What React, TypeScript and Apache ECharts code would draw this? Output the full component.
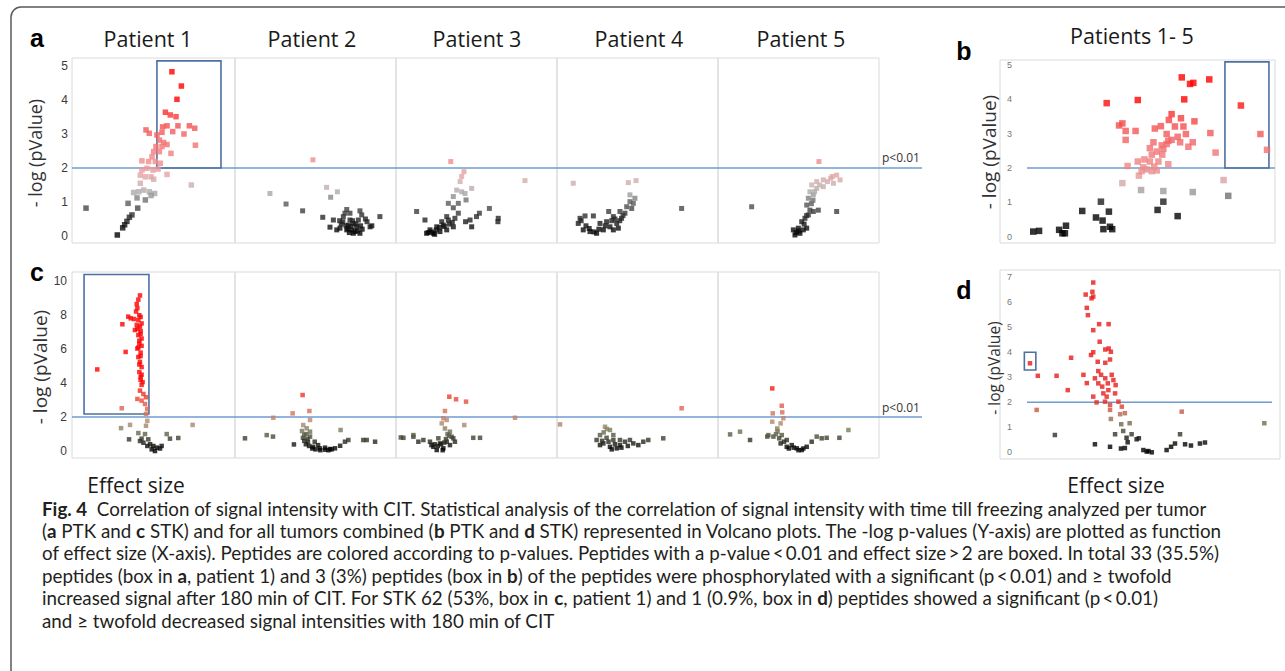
import React, { useEffect, useRef } from 'react';
import * as echarts from 'echarts';

// ---------- data (x = effect size, arbitrary 0-10 panel units; y = -log(pValue)) ----------
const patientLabels = ['Patient 1', 'Patient 2', 'Patient 3', 'Patient 4', 'Patient 5'];
const combinedLabel = 'Patients 1- 5';
const yTicksA = [0, 1, 2, 3, 4, 5];
const yTicksB = [0, 1, 2, 3, 4, 5];
const yTicksC = [0, 2, 4, 6, 8, 10];
const yTicksD = [0, 1, 2, 3, 4, 5, 6, 7];
const threshold = 2;
const thresholdLabel = 'p<0.01';

const a1Points = [[6.13,4.83],[6.71,4.41],[6.44,4.02],[5.73,3.64],[6.03,3.56],[6.38,3.51],[5.56,3.21],[5.83,3.24],[6.5,3.24],[7.2,3.24],[7.53,3.17],[6.87,3.0],[6.18,3.07],[4.54,3.12],[4.74,3.02],[5.21,2.97],[5.52,3.05],[5.36,2.82],[5.62,2.75],[5.15,2.63],[5.52,2.63],[5.83,2.69],[6.07,2.43],[7.57,2.67],[5.01,2.48],[5.36,2.48],[4.91,2.33],[4.29,2.21],[4.7,2.19],[5.11,2.19],[5.42,2.14],[4.29,1.94],[4.6,1.99],[4.97,1.94],[5.28,1.97],[5.83,1.81],[4.19,1.79],[4.5,1.74],[4.85,1.74],[5.01,1.67],[7.32,1.5],[4.19,1.55],[3.78,1.28],[4.09,1.3],[4.4,1.35],[4.74,1.3],[5.07,1.25],[3.99,1.12],[4.5,1.06],[4.85,1.19],[3.44,0.96],[4.03,0.82],[0.86,0.82],[3.68,0.62],[3.52,0.55],[3.37,0.43],[3.23,0.33],[3.11,0.24],[2.78,0.03]];
const a2Points = [[4.84,2.24],[2.17,1.25],[3.17,0.94],[4.2,0.74],[5.69,1.43],[6.36,1.3],[5.94,1.14],[5.45,0.55],[5.9,0.26],[9.0,0.57],[8.39,0.27],[8.5,0.3],[6.94,0.78],[7.76,0.74],[8.1,0.5],[6.73,0.57],[7.14,0.47],[7.35,0.37],[7.56,0.27],[7.25,0.18],[7.35,0.08],[6.94,0.18],[6.52,0.23],[6.32,0.18],[7.04,0.32],[7.66,0.47],[7.87,0.62],[6.83,0.67],[7.14,0.67],[7.45,0.13],[7.76,0.08],[6.11,0.47],[8.2,0.42],[6.6,0.35],[6.7,0.42],[6.9,0.3],[7.0,0.22],[7.2,0.28],[7.3,0.45],[7.5,0.35],[7.6,0.15],[7.8,0.3],[7.9,0.2],[6.5,0.45],[7.1,0.1]];
const a3Points = [[3.4,2.19],[4.22,1.89],[4.08,1.75],[3.98,1.6],[8.01,1.63],[4.7,1.4],[3.77,1.35],[4.08,1.3],[3.56,1.16],[4.35,1.06],[3.25,0.96],[3.56,0.83],[3.87,0.67],[1.28,0.72],[1.8,0.47],[5.8,0.81],[5.18,0.67],[5.0,0.57],[4.6,0.47],[4.32,0.42],[6.35,0.52],[6.33,0.42],[4.7,0.27],[3.15,0.57],[2.84,0.42],[2.53,0.27],[2.11,0.18],[1.9,0.08],[2.32,0.08],[2.73,0.13],[3.15,0.18],[3.56,0.27],[2.94,0.32],[3.25,0.47],[3.66,0.52],[3.87,0.96],[4.29,1.25],[2.2,0.12],[2.5,0.18],[2.7,0.25],[3.0,0.28],[3.3,0.35],[3.5,0.4],[2.4,0.05],[2.0,0.1]];
const a4Points = [[1.01,1.55],[4.43,1.57],[4.91,1.63],[7.74,0.81],[4.53,1.21],[4.84,1.11],[4.53,1.01],[4.33,0.86],[3.91,0.72],[3.5,0.57],[3.21,0.72],[4.01,0.52],[3.71,0.37],[3.29,0.27],[2.88,0.18],[2.46,0.08],[2.05,0.13],[1.63,0.18],[1.32,0.37],[1.43,0.52],[1.74,0.59],[2.26,0.59],[2.67,0.37],[3.08,0.42],[4.22,0.67],[4.64,0.81],[3.5,0.18],[3.81,0.23],[4.74,0.96],[2.0,0.22],[2.3,0.12],[2.6,0.2],[3.0,0.3],[3.4,0.45],[3.6,0.5],[3.9,0.45],[4.1,0.6],[1.8,0.3],[1.5,0.45]];
const a5Points = [[6.27,2.19],[7.37,1.79],[7.0,1.7],[6.54,1.65],[6.13,1.6],[5.82,1.5],[7.58,1.65],[7.17,1.55],[5.71,1.3],[6.13,1.4],[6.54,1.45],[5.61,1.11],[5.92,1.21],[5.51,0.91],[5.71,0.76],[5.61,0.62],[5.4,0.52],[5.2,0.42],[5.92,0.72],[6.23,0.76],[7.37,0.72],[2.09,0.86],[4.68,0.18],[4.99,0.23],[5.3,0.18],[4.78,0.03],[5.09,0.08],[5.51,0.23],[5.0,0.15],[4.85,0.1],[5.35,0.35],[5.5,0.6],[5.8,0.95],[5.9,1.05],[6.0,1.3],[6.3,1.5],[6.8,1.6],[7.1,1.75]];
const bPoints = [[1.21,0.15],[1.42,0.17],[2.15,0.2],[2.27,0.1],[2.4,0.32],[2.36,0.1],[2.99,0.75],[3.49,0.56],[3.67,1.02],[3.73,0.47],[3.96,0.73],[3.76,0.22],[4.0,0.29],[4.08,0.22],[5.73,0.78],[5.94,1.02],[6.46,0.6],[8.3,1.19],[3.88,3.89],[5.01,3.98],[6.7,4.0],[6.61,4.64],[6.91,4.45],[7.03,4.48],[7.61,4.58],[8.76,3.82],[9.47,2.99],[9.71,2.53],[8.13,1.65],[7.01,1.3],[5.94,1.33],[5.13,1.36],[4.45,1.56],[4.33,3.24],[4.45,3.3],[4.57,3.08],[4.57,2.82],[4.93,3.08],[4.64,2.06],[5.01,2.19],[5.05,1.78],[5.21,2.02],[6.12,2.11],[5.63,3.15],[5.85,3.22],[6.06,2.99],[6.14,3.4],[6.24,3.57],[6.36,3.21],[6.58,3.45],[6.67,3.21],[6.76,2.99],[7.07,3.36],[6.85,2.62],[7.01,2.75],[7.65,3.02],[7.84,2.45],[6.46,2.91],[6.24,2.82],[6.06,2.7],[5.88,2.66],[5.7,2.48],[5.52,2.39],[5.45,2.19],[5.61,2.04],[5.76,2.19],[5.9,2.39],[5.45,2.58],[5.58,2.75],[5.33,1.96],[5.52,1.91],[5.7,1.93],[5.15,1.91],[5.25,2.25],[5.94,2.56],[6.12,2.79],[6.55,2.75]];
const c1Points = [[1.55,4.81],[3.05,2.52],[3.09,7.47],[3.29,5.84],[4.17,9.17],[4.07,8.92],[3.97,8.66],[4.01,8.42],[3.93,8.22],[3.45,7.92],[3.6,7.82],[3.8,7.78],[4.07,7.72],[4.27,7.52],[4.17,7.33],[3.97,7.43],[3.86,7.13],[4.21,7.07],[4.07,6.83],[4.27,6.63],[4.13,6.33],[4.01,6.04],[4.21,5.8],[4.07,5.54],[4.17,5.25],[4.27,4.95],[4.13,4.65],[4.21,4.36],[4.33,4.06],[4.27,3.9],[4.17,3.56],[4.38,3.36],[4.01,3.07],[4.27,2.97],[4.54,3.17],[4.48,2.77],[4.62,2.48],[4.54,2.19],[4.62,1.78],[4.54,1.49],[3.01,1.35],[3.56,1.54],[3.5,0.69],[4.07,1.06],[4.48,1.0],[4.27,0.73],[4.68,0.69],[4.38,0.49],[4.79,0.4],[4.99,0.3],[5.2,0.2],[5.4,0.15],[4.89,0.1],[4.62,0.3],[5.09,0.0],[5.5,0.3],[5.81,1.0],[6.01,0.73],[6.52,0.77],[7.4,1.54],[4.17,0.59],[4.13,8.0],[4.21,7.9],[4.01,7.2],[4.21,6.9],[4.13,6.5],[4.27,6.2],[4.07,6.1],[4.21,5.6],[4.13,5.1],[4.27,4.5],[4.21,4.2]];
const c2Points = [[4.2,3.3],[3.58,2.22],[4.62,2.36],[2.38,1.96],[4.66,1.83],[4.24,1.53],[4.45,1.34],[4.66,1.14],[6.56,1.24],[1.97,0.94],[2.36,0.85],[0.62,0.75],[3.66,0.39],[4.66,0.85],[4.95,0.55],[5.16,0.35],[5.59,0.2],[5.9,0.12],[6.21,0.16],[6.53,0.31],[6.83,0.55],[7.04,0.65],[7.97,0.65],[8.18,0.65],[8.7,0.55],[5.26,0.16],[4.85,0.25],[4.53,0.55],[4.22,0.78],[4.43,1.0],[4.16,1.18],[4.4,0.4],[4.6,0.3],[4.8,0.15],[5.0,0.1],[5.3,0.05],[5.6,0.08],[5.8,0.05],[6.0,0.1],[4.3,0.6],[4.5,0.7],[4.3,0.95]];
const c3Points = [[3.31,3.2],[3.73,3.05],[4.35,2.91],[3.04,2.36],[2.94,1.93],[3.15,1.83],[7.39,1.96],[4.24,1.53],[2.84,1.63],[3.04,1.33],[3.35,1.14],[3.46,0.84],[3.15,0.55],[2.73,0.45],[2.32,0.25],[2.53,0.06],[2.94,0.16],[2.11,0.55],[1.7,0.65],[1.08,0.84],[1.39,0.55],[0.46,0.78],[3.56,0.75],[3.66,0.55],[4.8,0.78],[5.22,0.78],[0.3,0.8],[1.08,0.94],[3.35,0.35],[2.63,0.75],[2.6,0.3],[2.8,0.4],[3.0,0.5],[2.4,0.4],[2.2,0.35],[3.1,0.7],[3.3,0.9],[3.2,1.0],[2.9,0.05]];
const c4Points = [[7.74,2.52],[0.19,1.57],[2.98,1.43],[3.29,1.24],[2.67,0.94],[3.5,0.94],[2.46,0.65],[2.88,0.45],[3.29,0.25],[3.71,0.16],[3.91,0.35],[4.22,0.55],[4.53,0.65],[4.74,0.45],[5.05,0.35],[5.36,0.55],[5.67,0.65],[6.6,0.75],[3.5,0.65],[3.08,0.78],[3.91,0.65],[2.67,0.35],[2.8,0.6],[3.2,0.55],[3.6,0.4],[4.0,0.2],[4.4,0.3],[3.4,0.1],[2.9,1.1],[3.1,1.3]];
const c5Points = [[3.37,3.69],[3.96,2.67],[3.4,2.22],[3.99,2.28],[4.06,1.93],[3.37,1.73],[3.89,1.63],[3.68,1.33],[3.13,0.94],[3.44,0.85],[3.96,0.94],[4.27,0.65],[4.58,0.35],[4.89,0.16],[5.2,0.06],[5.51,0.25],[5.82,0.55],[6.13,0.85],[6.44,0.75],[6.75,0.78],[7.54,0.78],[8.1,1.24],[0.75,0.98],[1.37,1.14],[1.99,0.65],[3.06,0.85],[3.89,0.45],[4.27,0.25],[4.4,0.15],[4.7,0.2],[5.0,0.05],[5.3,0.15],[4.1,0.55],[3.8,0.75],[3.6,1.0],[3.7,1.15]];
const dPoints = [[1.07,3.55],[1.35,3.05],[1.31,1.69],[2.02,3.05],[1.96,0.69],[2.42,2.48],[2.54,3.77],[2.98,3.09],[3.1,2.76],[3.33,6.77],[3.3,6.4],[3.33,6.21],[3.27,6.14],[3.06,6.29],[3.1,5.76],[3.14,5.47],[3.33,4.87],[3.54,5.11],[3.88,5.11],[3.56,4.41],[3.25,3.88],[3.33,3.99],[3.49,3.61],[3.76,4.1],[3.88,4.14],[3.96,4.01],[3.93,3.7],[3.76,3.57],[3.51,3.24],[3.61,3.09],[3.39,2.95],[3.76,2.95],[3.99,3.09],[4.05,2.88],[4.13,2.68],[3.85,2.75],[3.65,2.62],[3.51,2.75],[3.87,2.48],[3.69,2.35],[4.11,2.35],[3.81,2.22],[3.33,2.22],[3.45,1.99],[3.75,2.02],[3.93,1.89],[4.23,2.02],[4.35,1.82],[3.93,1.69],[3.96,1.33],[4.29,1.52],[4.46,1.56],[6.49,1.62],[4.33,1.12],[4.63,1.16],[4.11,0.72],[4.4,0.85],[4.52,0.58],[4.7,0.72],[4.88,0.52],[4.96,0.56],[4.56,0.4],[3.39,0.32],[3.93,0.22],[4.32,0.15],[4.46,0.17],[5.12,0.09],[5.24,0.03],[5.42,0.0],[5.3,0.05],[5.95,0.09],[6.11,0.22],[6.25,0.35],[6.43,0.72],[6.61,0.32],[6.82,0.27],[7.14,0.35],[7.32,0.39],[9.44,1.16]];

// boxed regions (effect size range, -log p range)
const boxA1 = [[5.21, 2.0], [9.14, 5.15]];
const boxB = [[8.18, 2.0], [9.78, 5.09]];
const boxC1 = [[0.74, 2.18], [4.72, 10.4]];
const boxD = [[0.87, 3.28], [1.28, 3.99]];

const captionLines = [
  '{b|Fig. 4}  Correlation of signal intensity with CIT. Statistical analysis of the correlation of signal intensity with time till freezing analyzed per tumor',
  '({b|a} PTK and {b|c} STK) and for all tumors combined ({b|b} PTK and {b|d} STK) represented in Volcano plots. The -log p-values (Y-axis) are plotted as function',
  'of effect size (X-axis). Peptides are colored according to p-values. Peptides with a p-value\u2009<\u20090.01 and effect size\u2009>\u20092 are boxed. In total 33 (35.5%)',
  'peptides (box in {b|a}, patient 1) and 3 (3%) peptides (box in {b|b}) of the peptides were phosphorylated with a significant (p\u2009<\u20090.01) and \u2265 twofold',
  'increased signal after 180 min of CIT. For STK 62 (53%, box in {b|c}, patient 1) and 1 (0.9%, box in {b|d}) peptides showed a significant (p\u2009<\u20090.01)',
  'and \u2265 twofold decreased signal intensities with 180 min of CIT',
];

// ---------- styling ----------
const colorsA = ['#000000','#101010','#262626','#404040','#606060','#a8a8a8','#c8b0b0','#e0a6a6','#ec9898','#f08a8a','#f27c7c','#f36e6e','#f46060','#f55050','#f83c3c','#fb2424','#ff0000'];
const colorsB = ['#000000','#000000','#000000','#050505','#141414','#909090','#c9aeae','#e29a9a','#ec8a8a','#ef8080','#f07474','#f26666','#f35a5a','#f54d4d','#f73c3c','#fb2020','#ff0000'];
const colorsC = ['#000000','#0a0a08','#222219','#3e3e30','#5f604a','#7f7c5e','#a08a6a','#b68a6c','#c68066','#d5705a','#de6452','#e45848','#e84a3a','#ed3a2c','#f22a1e','#f81810','#ff0000'];
const colorsD = ['#000000','#000000','#0d0d0a','#3a3d30','#5a5f45','#857050','#b06a55','#d84a38','#e42a20','#e62020','#e81c1c','#e81a1a','#e81a1a','#e81a1a','#e81a1a','#e81a1a','#e81a1a'];

const colLeft = [72, 235, 396, 557, 718];
const colWidth = [163, 161, 161, 161, 161];
const TXT = '#1a1a1a';
const BOX = '#4d70a3';
const LINE = '#6f9bd1';
const CAP = '#231f20';

export default function App() {
  const ref = useRef<HTMLDivElement>(null);
  useEffect(() => {
    if (!ref.current) return;
    const chart = echarts.init(ref.current, undefined, { renderer: 'svg' });

    const grids: any[] = [];
    const xAxes: any[] = [];
    const yAxes: any[] = [];
    const series: any[] = [];
    const gridBorder = { show: true, borderColor: '#dadada', borderWidth: 1, backgroundColor: 'transparent' };

    const addPanel = (g: any, yMin: number, yMax: number, label: any, data: number[][], size: number, box?: number[][]) => {
      const i = grids.length;
      grids.push({ ...gridBorder, ...g });
      xAxes.push({ gridIndex: i, type: 'value', min: 0, max: 10, show: false });
      yAxes.push({
        gridIndex: i, type: 'value', min: yMin, max: yMax,
        axisLine: { show: false }, axisTick: { show: false }, splitLine: { show: false },
        axisLabel: label ? label : { show: false },
      });
      const s: any = {
        type: 'scatter', xAxisIndex: i, yAxisIndex: i, data, symbol: 'rect', symbolSize: size, silent: true,
      };
      if (box) {
        s.markArea = {
          silent: true,
          itemStyle: { color: 'rgba(0,0,0,0)', borderColor: BOX, borderWidth: 1.6 },
          data: [[{ xAxis: box[0][0], yAxis: box[0][1] }, { xAxis: box[1][0], yAxis: box[1][1] }]],
        };
      }
      series.push(s);
    };

    const labelA = { show: true, customValues: yTicksA, fontSize: 12, color: '#3a3a3a', margin: 4, fontFamily: 'Liberation Sans' };
    const labelB = { show: true, inside: true, customValues: yTicksB, fontSize: 9, color: '#777', margin: 7, fontFamily: 'Liberation Sans' };
    const labelC = { show: true, customValues: yTicksC, fontSize: 12, color: '#3a3a3a', margin: 5, fontFamily: 'Liberation Sans' };
    const labelD = { show: true, inside: true, customValues: yTicksD, fontSize: 9, color: '#777', margin: 7, fontFamily: 'Liberation Sans' };

    const aData = [a1Points, a2Points, a3Points, a4Points, a5Points];
    const cData = [c1Points, c2Points, c3Points, c4Points, c5Points];
    aData.forEach((d, k) => addPanel({ left: colLeft[k], top: 58, width: colWidth[k], height: 185 }, -0.206, 5.235, k === 0 ? labelA : null, d, k === 0 ? 5.5 : 5, k === 0 ? boxA1 : undefined));
    addPanel({ left: 1000, top: 60, width: 275, height: 183 }, -0.183, 5.146, labelB, bPoints, 6.5, boxB);
    cData.forEach((d, k) => addPanel({ left: colLeft[k], top: 272, width: colWidth[k], height: 186 }, -0.41, 10.55, k === 0 ? labelC : null, d, 4.5, k === 0 ? boxC1 : undefined));
    addPanel({ left: 1000, top: 270, width: 280, height: 189 }, -0.267, 7.27, labelD, dPoints, 4.5, boxD);

    const vm = (idx: number[], colors: string[]) => ({
      type: 'continuous', show: false, dimension: 1, min: 0, max: 4, seriesIndex: idx,
      inRange: { color: colors }, outOfRange: { color: colors[colors.length - 1] },
    });

    chart.setOption({
      animation: false,
      grid: grids,
      xAxis: xAxes,
      yAxis: yAxes,
      series,
      visualMap: [vm([0, 1, 2, 3, 4], colorsA), vm([5], colorsB), vm([6, 7, 8, 9, 10], colorsC), vm([11], colorsD)],
    });

    const yPix = (gi: number) => chart.convertToPixel({ gridIndex: gi } as any, [0, threshold])[1];
    const yA = yPix(0), yB = yPix(5), yC = yPix(6), yD = yPix(11);

    const txt = (x: number, y: number, text: string, o: any = {}) => ({
      type: 'text', x, y, silent: true, rotation: o.rotation || 0,
      style: {
        text, fill: o.fill || TXT, fontSize: o.fontSize || 21.5, fontFamily: o.fontFamily || 'Open Sans',
        fontWeight: o.fontWeight || 'normal', align: o.align || 'center', verticalAlign: 'middle',
        rich: o.rich,
      },
    });
    const hline = (x1: number, x2: number, y: number) => ({
      type: 'line', silent: true, shape: { x1, y1: y, x2, y2: y }, style: { stroke: LINE, lineWidth: 1.5 },
    });

    const titleX = [148, 312, 477, 639, 801];
    const capSize = 18.8;
    const capRich = { b: { fontWeight: 'bold', fontFamily: 'Lato', fontSize: capSize, fill: CAP, color: CAP } };
    const letter = { fontFamily: 'Liberation Sans', fontWeight: 'bold', fontSize: 25, fill: '#000' };
    const graphic: any[] = [
      { type: 'rect', silent: true, shape: { x: 11, y: 7, width: 1300, height: 700, r: 10 }, style: { fill: 'none', stroke: '#5a5a5a', lineWidth: 1.5 } },
      hline(72, 922, yA), hline(72, 922, yC), hline(1027, 1275, yB), hline(1027, 1272, yD),
      txt(882, yA - 10, thresholdLabel, { fontSize: 12, align: 'left', fill: '#333' }),
      txt(882, yC - 10, thresholdLabel, { fontSize: 12, align: 'left', fill: '#333' }),
      ...patientLabels.map((p, k) => txt(titleX[k], 38, p)),
      txt(1132, 35, combinedLabel),
      txt(37, 38, 'a', letter),
      txt(964, 51, 'b', letter),
      txt(37, 272, 'c', letter),
      txt(964, 290, 'd', letter),
      txt(35, 153, '- log (pValue)', { fontSize: 18, rotation: Math.PI / 2, fill: '#333' }),
      txt(989, 152, '- log (pValue)', { fontSize: 19, rotation: Math.PI / 2, fill: '#333' }),
      txt(40, 367, '- log (pValue)', { fontSize: 19, rotation: Math.PI / 2, fill: '#333' }),
      txt(994, 368, '- log (pValue)', { fontSize: 15.5, rotation: Math.PI / 2, fill: '#333' }),
      txt(136, 485, 'Effect size', { fontSize: 21 }),
      txt(1116, 485, 'Effect size', { fontSize: 21 }),
      ...captionLines.map((l, k) => txt(42, 508 + k * 22.4, l, { fontSize: capSize, fontFamily: 'Lato', align: 'left', fill: CAP, rich: capRich })),
    ];
    chart.setOption({ graphic });

    return () => chart.dispose();
  }, []);

  return <div ref={ref} style={{ position: 'fixed', left: 0, top: 0, width: 1285, height: 671, background: '#fff' }} />;
}
